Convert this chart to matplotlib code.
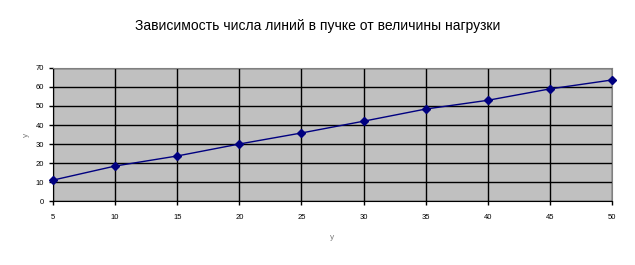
import matplotlib
matplotlib.use("Agg")
import matplotlib.pyplot as plt

plt.rcParams["font.family"] = ["Liberation Sans", "DejaVu Sans"]

# значения
loads = [5, 10, 15, 20, 25, 30, 35, 40, 45, 50]
lines_count = [11, 18.4, 23.7, 30, 35.8, 42, 48.4, 53, 59, 63.7]
y_ticks = [0, 10, 20, 30, 40, 50, 60, 70]

fig = plt.figure(figsize=(6.35, 2.65), dpi=100)
ax = fig.add_axes([0.0835, 0.2415, 0.8803, 0.5019])
ax.set_facecolor("#C0C0C0")

ax.plot(loads, lines_count, color="#000080", linewidth=1,
        marker="D", markersize=4.5, markerfacecolor="#000080",
        markeredgecolor="#000080", clip_on=False, zorder=3)

ax.set_xlim(5, 50)
ax.set_ylim(0, 70)
ax.set_xticks(loads)
ax.set_yticks(y_ticks)
ax.grid(True, color="black", linewidth=1)
ax.set_axisbelow(True)

for side in ["top", "right"]:
    ax.spines[side].set_color("#808080")
for side in ["left", "bottom"]:
    ax.spines[side].set_color("black")
ax.tick_params(labelsize=5.5, length=3, width=1)
ax.tick_params(axis="x", pad=6)

ax.set_xlabel("y", fontsize=6, color="#808080", labelpad=10)
ax.set_ylabel("y", fontsize=6, color="#808080", labelpad=4)

fig.suptitle("Зависимость числа линий в пучке от величины нагрузки",
             fontsize=10, y=0.93, x=0.5)

fig.savefig("out.png", dpi=100)
plt.close()
